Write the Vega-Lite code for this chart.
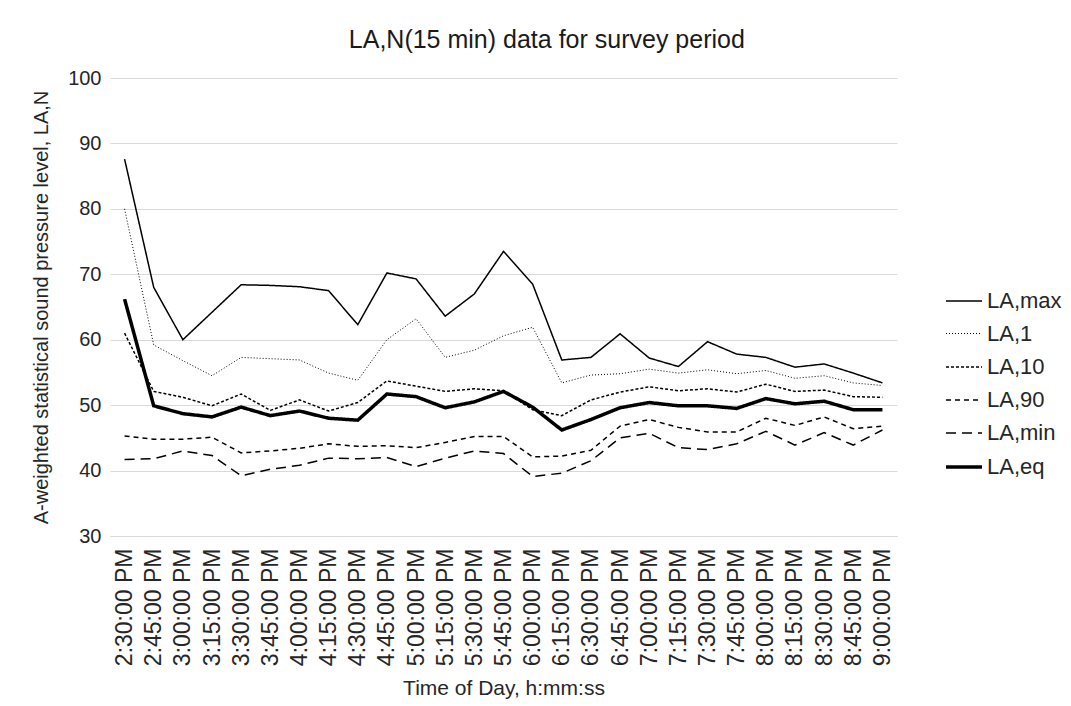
{
  "$schema": "https://vega.github.io/schema/vega-lite/v6.json",
  "width": 787,
  "height": 458,
  "padding": {"left": 31, "top": 28, "right": 5, "bottom": 2},
  "background": "white",
  "config": {
    "font": "Liberation Sans",
    "view": {"stroke": null},
    "axis": {"labelColor": "#262626", "titleColor": "#262626", "titleFontWeight": "normal"}
  },
  "title": {
    "text": "LA,N(15 min) data for survey period",
    "fontSize": 25,
    "fontWeight": "normal",
    "color": "#1a1a1a",
    "anchor": "middle",
    "frame": "bounds",
    "offset": 15
  },
  "data": {
    "values": [
      {"t": "2:30:00 PM", "LA,max": 87.6, "LA,1": 80.0, "LA,10": 61.0, "LA,90": 45.3, "LA,min": 41.7, "LA,eq": 66.2},
      {"t": "2:45:00 PM", "LA,max": 68.0, "LA,1": 59.2, "LA,10": 52.1, "LA,90": 44.8, "LA,min": 41.8, "LA,eq": 49.9},
      {"t": "3:00:00 PM", "LA,max": 60.0, "LA,1": 56.8, "LA,10": 51.2, "LA,90": 44.8, "LA,min": 43.0, "LA,eq": 48.7},
      {"t": "3:15:00 PM", "LA,max": 64.2, "LA,1": 54.5, "LA,10": 49.9, "LA,90": 45.1, "LA,min": 42.3, "LA,eq": 48.2},
      {"t": "3:30:00 PM", "LA,max": 68.4, "LA,1": 57.3, "LA,10": 51.7, "LA,90": 42.7, "LA,min": 39.2, "LA,eq": 49.7},
      {"t": "3:45:00 PM", "LA,max": 68.3, "LA,1": 57.1, "LA,10": 49.2, "LA,90": 43.0, "LA,min": 40.2, "LA,eq": 48.4},
      {"t": "4:00:00 PM", "LA,max": 68.1, "LA,1": 56.9, "LA,10": 50.8, "LA,90": 43.4, "LA,min": 40.8, "LA,eq": 49.1},
      {"t": "4:15:00 PM", "LA,max": 67.5, "LA,1": 54.9, "LA,10": 49.1, "LA,90": 44.1, "LA,min": 41.9, "LA,eq": 48.0},
      {"t": "4:30:00 PM", "LA,max": 62.3, "LA,1": 53.8, "LA,10": 50.4, "LA,90": 43.7, "LA,min": 41.8, "LA,eq": 47.7},
      {"t": "4:45:00 PM", "LA,max": 70.2, "LA,1": 60.0, "LA,10": 53.7, "LA,90": 43.8, "LA,min": 42.0, "LA,eq": 51.7},
      {"t": "5:00:00 PM", "LA,max": 69.3, "LA,1": 63.2, "LA,10": 52.9, "LA,90": 43.5, "LA,min": 40.6, "LA,eq": 51.3},
      {"t": "5:15:00 PM", "LA,max": 63.6, "LA,1": 57.3, "LA,10": 52.1, "LA,90": 44.3, "LA,min": 41.9, "LA,eq": 49.6},
      {"t": "5:30:00 PM", "LA,max": 67.0, "LA,1": 58.4, "LA,10": 52.5, "LA,90": 45.2, "LA,min": 43.0, "LA,eq": 50.5},
      {"t": "5:45:00 PM", "LA,max": 73.5, "LA,1": 60.6, "LA,10": 52.2, "LA,90": 45.2, "LA,min": 42.6, "LA,eq": 52.1},
      {"t": "6:00:00 PM", "LA,max": 68.5, "LA,1": 61.9, "LA,10": 49.3, "LA,90": 42.1, "LA,min": 39.1, "LA,eq": 49.7},
      {"t": "6:15:00 PM", "LA,max": 56.9, "LA,1": 53.4, "LA,10": 48.4, "LA,90": 42.2, "LA,min": 39.6, "LA,eq": 46.2},
      {"t": "6:30:00 PM", "LA,max": 57.3, "LA,1": 54.6, "LA,10": 50.8, "LA,90": 43.1, "LA,min": 41.5, "LA,eq": 47.8},
      {"t": "6:45:00 PM", "LA,max": 60.9, "LA,1": 54.8, "LA,10": 52.0, "LA,90": 46.8, "LA,min": 45.0, "LA,eq": 49.6},
      {"t": "7:00:00 PM", "LA,max": 57.2, "LA,1": 55.5, "LA,10": 52.8, "LA,90": 47.8, "LA,min": 45.7, "LA,eq": 50.4},
      {"t": "7:15:00 PM", "LA,max": 55.9, "LA,1": 54.9, "LA,10": 52.2, "LA,90": 46.6, "LA,min": 43.5, "LA,eq": 49.9},
      {"t": "7:30:00 PM", "LA,max": 59.7, "LA,1": 55.4, "LA,10": 52.5, "LA,90": 45.9, "LA,min": 43.2, "LA,eq": 49.9},
      {"t": "7:45:00 PM", "LA,max": 57.8, "LA,1": 54.8, "LA,10": 52.0, "LA,90": 45.9, "LA,min": 44.1, "LA,eq": 49.5},
      {"t": "8:00:00 PM", "LA,max": 57.3, "LA,1": 55.3, "LA,10": 53.2, "LA,90": 48.0, "LA,min": 46.0, "LA,eq": 51.0},
      {"t": "8:15:00 PM", "LA,max": 55.8, "LA,1": 54.1, "LA,10": 52.1, "LA,90": 46.9, "LA,min": 43.9, "LA,eq": 50.2},
      {"t": "8:30:00 PM", "LA,max": 56.3, "LA,1": 54.5, "LA,10": 52.3, "LA,90": 48.2, "LA,min": 45.8, "LA,eq": 50.6},
      {"t": "8:45:00 PM", "LA,max": 54.9, "LA,1": 53.4, "LA,10": 51.3, "LA,90": 46.4, "LA,min": 43.9, "LA,eq": 49.3},
      {"t": "9:00:00 PM", "LA,max": 53.4, "LA,1": 53.0, "LA,10": 51.2, "LA,90": 46.8, "LA,min": 46.2, "LA,eq": 49.3}
    ]
  },
  "transform": [
    {"fold": ["LA,max", "LA,1", "LA,10", "LA,90", "LA,min", "LA,eq"], "as": ["series", "value"]}
  ],
  "mark": {"type": "line", "color": "black", "strokeJoin": "miter"},
  "encoding": {
    "x": {
      "field": "t",
      "type": "ordinal",
      "sort": null,
      "title": "Time of Day, h:mm:ss",
      "axis": {
        "labelAngle": -90,
        "labelFontSize": 23,
        "titleFontSize": 21,
        "ticks": false,
        "domainColor": "#d9d9d9",
        "labelPadding": 12,
        "titlePadding": 12
      }
    },
    "y": {
      "field": "value",
      "type": "quantitative",
      "scale": {"domain": [30, 100], "nice": false, "zero": false},
      "title": "A-weighted statistical sound pressure level,  LA,N",
      "axis": {
        "values": [30, 40, 50, 60, 70, 80, 90, 100],
        "labelFontSize": 20,
        "titleFontSize": 20,
        "ticks": false,
        "domain": false,
        "gridColor": "#d9d9d9",
        "gridWidth": 1.2,
        "labelPadding": 9,
        "titlePadding": 16
      }
    },
    "detail": {"field": "series"},
    "strokeDash": {
      "field": "series",
      "type": "nominal",
      "sort": null,
      "scale": {
        "type": "ordinal",
        "domain": ["LA,max", "LA,1", "LA,10", "LA,90", "LA,min", "LA,eq"],
        "range": [[1, 0], [1, 2], [3, 2], [5, 4], [10, 6], [1, 0]]
      },
      "legend": {
        "title": null,
        "orient": "none",
        "legendX": 834,
        "legendY": 204,
        "symbolType": "stroke",
        "symbolSize": 1296,
        "symbolStrokeColor": "black",
        "labelFontSize": 22,
        "labelColor": "#262626",
        "labelFont": "Liberation Sans",
        "rowPadding": 3,
        "labelOffset": 3
      }
    },
    "strokeWidth": {
      "field": "series",
      "type": "nominal",
      "sort": null,
      "scale": {
        "type": "ordinal",
        "domain": ["LA,max", "LA,1", "LA,10", "LA,90", "LA,min", "LA,eq"],
        "range": [1.5, 1, 1.5, 1.5, 1.5, 3.5]
      },
      "legend": {
        "title": null,
        "orient": "none",
        "legendX": 834,
        "legendY": 204,
        "symbolType": "stroke",
        "symbolSize": 1296,
        "symbolStrokeColor": "black",
        "labelFontSize": 22,
        "labelColor": "#262626",
        "labelFont": "Liberation Sans",
        "rowPadding": 3,
        "labelOffset": 3
      }
    }
  }
}
